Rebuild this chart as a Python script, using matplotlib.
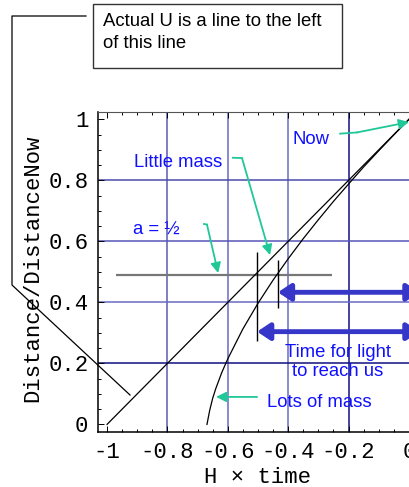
import matplotlib.pyplot as plt
from matplotlib.patches import Rectangle
from matplotlib.ticker import MultipleLocator

# data
little_x = [-1.0, -0.8, -0.6, -0.4, -0.2, 0.0]
little_y = [0.0, 0.2, 0.4, 0.6, 0.8, 1.0]

lots_x = [-0.669, -0.66, -0.65, -0.64, -0.62, -0.60, -0.55, -0.50, -0.45,
          -0.40, -0.35, -0.30, -0.25, -0.20, -0.15, -0.10, -0.05, 0.0]
lots_y = [0.0, 0.046, 0.086, 0.117, 0.170, 0.215, 0.313, 0.397, 0.473,
          0.543, 0.609, 0.671, 0.731, 0.788, 0.844, 0.897, 0.949, 1.0]

half_level = 0.49
half_span = [-0.970, -0.255]
# where each curve crosses a = 1/2: (x, y low, y high)
markers = [(-0.503, 0.274, 0.566), (-0.434, 0.382, 0.539)]
# light travel arrows: (start x, y)
light_arrows = [(-0.434, 0.433), (-0.503, 0.304)]

xticks = [-1, -0.8, -0.6, -0.4, -0.2, 0]
xtick_labels = ['-1', '-0.8', '-0.6', '-0.4', '-0.2', '0']
yticks = [0, 0.2, 0.4, 0.6, 0.8, 1]
ytick_labels = ['0', '0.2', '0.4', '0.6', '0.8', '1']

mono = 'Liberation Mono'
sans = 'Liberation Sans'
blue_txt = '#1010ff'
green = '#20c898'
arrow_blue = '#3636c8'

fig = plt.figure(figsize=(4.09, 4.87), dpi=100)
ax = fig.add_axes([0.2396, 0.1129, 0.7824, 0.6565])
ax.set_xlim(-1.03, 0.03)
ax.set_ylim(-0.025, 1.023)

# grid lines
vgrid = {-0.8: '#5a5ab4', -0.6: '#6a6ac4', -0.4: '#6a6ac4', -0.2: '#101080'}
hgrid = {0.8: '#4a4aac', 0.6: '#5656b8', 0.4: '#6a6ac4', 0.2: '#101080'}
for v, c in vgrid.items():
    ax.axvline(v, color=c, lw=1.1, zorder=1)
for h, c in hgrid.items():
    ax.axhline(h, color=c, lw=1.1, zorder=1)

ax.plot(little_x, little_y, color='black', lw=0.9, zorder=3)
ax.plot(lots_x, lots_y, color='black', lw=0.9, zorder=3)

ax.hlines(half_level, half_span[0], half_span[1], color='#777777', lw=1.6, zorder=2)
for mx, y0, y1 in markers:
    ax.vlines(mx, y0, y1, color='black', lw=1.0, zorder=3)

for x0, y in light_arrows:
    ax.annotate('', xy=(x0, y), xytext=(0.035, y), annotation_clip=False,
                arrowprops=dict(arrowstyle='<|-|>,head_length=0.75,head_width=0.5',
                                mutation_scale=10, lw=3.5, color=arrow_blue,
                                shrinkA=0, shrinkB=0), zorder=4)

# text labels and green callouts
tkw = dict(family=sans, fontsize=13.3, color=blue_txt, zorder=5)
ax.text(-0.323, 0.935, 'Now', ha='center', va='center', **tkw)
ax.text(-0.765, 0.857, 'Little mass', ha='center', va='center', **tkw)
ax.text(-0.838, 0.635, 'a = ½', ha='center', va='center', **tkw)
ax.text(-0.470, 0.071, 'Lots of mass', ha='left', va='center', **tkw)
ax.text(-0.235, 0.206, 'Time for light\nto reach us', ha='center', va='center',
        linespacing=1.15, **tkw)

callouts = [
    ([-0.228, -0.172], [0.953, 0.957], (0.0, 0.991)),
    ([-0.583, -0.553], [0.874, 0.873], (-0.460, 0.555)),
    ([-0.679, -0.669], [0.657, 0.655], (-0.632, 0.496)),
    ([-0.503], [0.090], (-0.639, 0.090)),
]
for cx, cy, tip in callouts:
    ax.plot(cx, cy, color=green, lw=1.3, zorder=5, clip_on=False)
    ax.annotate('', xy=tip, xytext=(cx[-1], cy[-1]), annotation_clip=False,
                arrowprops=dict(arrowstyle='-|>,head_length=0.6,head_width=0.3',
                                mutation_scale=10, lw=1.3, color=green,
                                shrinkA=0, shrinkB=0), zorder=5)

# frame and ticks
for side in ['left', 'bottom']:
    ax.spines[side].set_linewidth(1.1)
ax.spines['top'].set_color('#555555')
ax.spines['top'].set_linewidth(0.8)
ax.spines['right'].set_visible(False)
ax.set_xticks(xticks)
ax.set_xticklabels(xtick_labels)
ax.set_yticks(yticks)
ax.set_yticklabels(ytick_labels)
ax.xaxis.set_minor_locator(MultipleLocator(0.05))
ax.yaxis.set_minor_locator(MultipleLocator(0.05))
ax.tick_params(which='both', direction='in', top=True, left=True, bottom=True,
               right=False, width=0.7)
ax.tick_params(which='major', length=4, labelsize=16, pad=7)
ax.tick_params(which='minor', length=2.5)
for lab in ax.get_xticklabels() + ax.get_yticklabels():
    lab.set_family(mono)

ax.set_xlabel('H × time', family=mono, fontsize=16)
ax.xaxis.set_label_coords(0.5, -0.141)
ax.xaxis.label.set_va('center')
ax.set_ylabel('Distance/DistanceNow', family=mono, fontsize=16)
ax.yaxis.set_label_coords(-0.203, 0.511)
ax.yaxis.label.set_va('center')

# overlay in pixel coordinates for the note box
ov = fig.add_axes([0, 0, 1, 1], zorder=10)
ov.set_xlim(0, 409)
ov.set_ylim(487, 0)
ov.axis('off')
ov.add_patch(Rectangle((93, 4), 249, 64, facecolor='white', edgecolor='#333333', lw=1.0))
ov.text(103, 22, 'Actual U is a line to the left', family=sans, fontsize=13.3,
        ha='left', va='center')
ov.text(103, 44, 'of this line', family=sans, fontsize=13.3, ha='left', va='center')
ov.plot([86, 12, 12, 130], [16, 16, 285, 395], color='black', lw=0.9)

fig.savefig('out.png', dpi=100)
